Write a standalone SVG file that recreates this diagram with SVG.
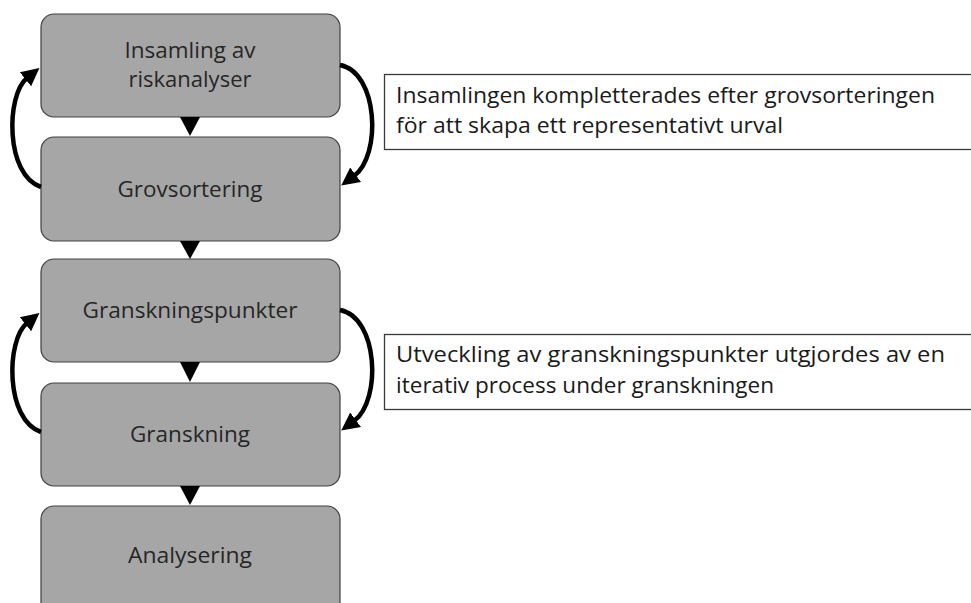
<svg xmlns="http://www.w3.org/2000/svg" width="971" height="603" viewBox="0 0 971 603">
  <style>
    .step { fill: #a6a6a6; stroke: #404040; stroke-width: 1.2; }
    .step-label { font-family: "Open Sans", "Liberation Sans", sans-serif; font-size: 21px; fill: #262626; text-anchor: middle; }
    .note { fill: #ffffff; stroke: #3a3a3a; stroke-width: 1.3; }
    .note-text { font-family: "Open Sans", "Liberation Sans", sans-serif; font-size: 21px; fill: #1a1a1a; }
    .flow { fill: #000000; }
    .loop { fill: none; stroke: #000000; stroke-width: 4.5; }
  </style>
  <defs>
    <marker id="loop-head" markerUnits="userSpaceOnUse" markerWidth="20" markerHeight="20" viewBox="0 0 20 20" refX="2" refY="10" orient="auto">
      <path d="M0,1 L18,10 L0,19 Z" fill="#000000"/>
    </marker>
  </defs>

  <rect width="971" height="603" fill="#ffffff"/>

  <!-- process steps -->
  <g id="step-insamling">
    <rect class="step" x="41" y="14" width="299" height="103" rx="13"/>
    <text class="step-label" x="190" y="58" textLength="131" lengthAdjust="spacingAndGlyphs">Insamling av</text>
    <text class="step-label" x="190" y="87" textLength="123" lengthAdjust="spacingAndGlyphs">riskanalyser</text>
  </g>
  <g id="step-grovsortering">
    <rect class="step" x="41" y="137" width="299" height="104" rx="13"/>
    <text class="step-label" x="190" y="197" textLength="145" lengthAdjust="spacingAndGlyphs">Grovsortering</text>
  </g>
  <g id="step-granskningspunkter">
    <rect class="step" x="41" y="259" width="299" height="103" rx="13"/>
    <text class="step-label" x="190" y="318" textLength="215" lengthAdjust="spacingAndGlyphs">Granskningspunkter</text>
  </g>
  <g id="step-granskning">
    <rect class="step" x="41" y="383" width="299" height="103" rx="13"/>
    <text class="step-label" x="190" y="442" textLength="120" lengthAdjust="spacingAndGlyphs">Granskning</text>
  </g>
  <g id="step-analysering">
    <rect class="step" x="41" y="506" width="299" height="112" rx="13"/>
    <text class="step-label" x="190" y="563" textLength="124" lengthAdjust="spacingAndGlyphs">Analysering</text>
  </g>

  <!-- notes -->
  <g id="note-insamling">
    <rect class="note" x="384.5" y="74.5" width="600" height="75"/>
    <text class="note-text" x="396" y="103" textLength="539" lengthAdjust="spacingAndGlyphs">Insamlingen kompletterades efter grovsorteringen</text>
    <text class="note-text" x="396" y="133" textLength="387" lengthAdjust="spacingAndGlyphs">för att skapa ett representativt urval</text>
  </g>
  <g id="note-granskning">
    <rect class="note" x="384.5" y="334.5" width="600" height="75"/>
    <text class="note-text" x="396" y="362" textLength="549" lengthAdjust="spacingAndGlyphs">Utveckling av granskningspunkter utgjordes av en</text>
    <text class="note-text" x="396" y="393" textLength="378" lengthAdjust="spacingAndGlyphs">iterativ process under granskningen</text>
  </g>

  <!-- connectors -->
  <g id="connectors">
    <polygon class="flow" points="180,117 200,117 190,136"/>
    <polygon class="flow" points="180,241 200,241 190,259"/>
    <polygon class="flow" points="180,362 200,362 190,382"/>
    <polygon class="flow" points="180,486 200,486 190,505"/>

    <path class="loop" d="M340,65 C378,72 382,155 354,176" marker-end="url(#loop-head)"/>
    <path class="loop" d="M41,187 C5,175 6,95 27,78" marker-end="url(#loop-head)"/>
    <path class="loop" d="M340,310 C378,317 382,400 354,421" marker-end="url(#loop-head)"/>
    <path class="loop" d="M41,432 C5,420 6,340 27,323" marker-end="url(#loop-head)"/>
  </g>
</svg>
